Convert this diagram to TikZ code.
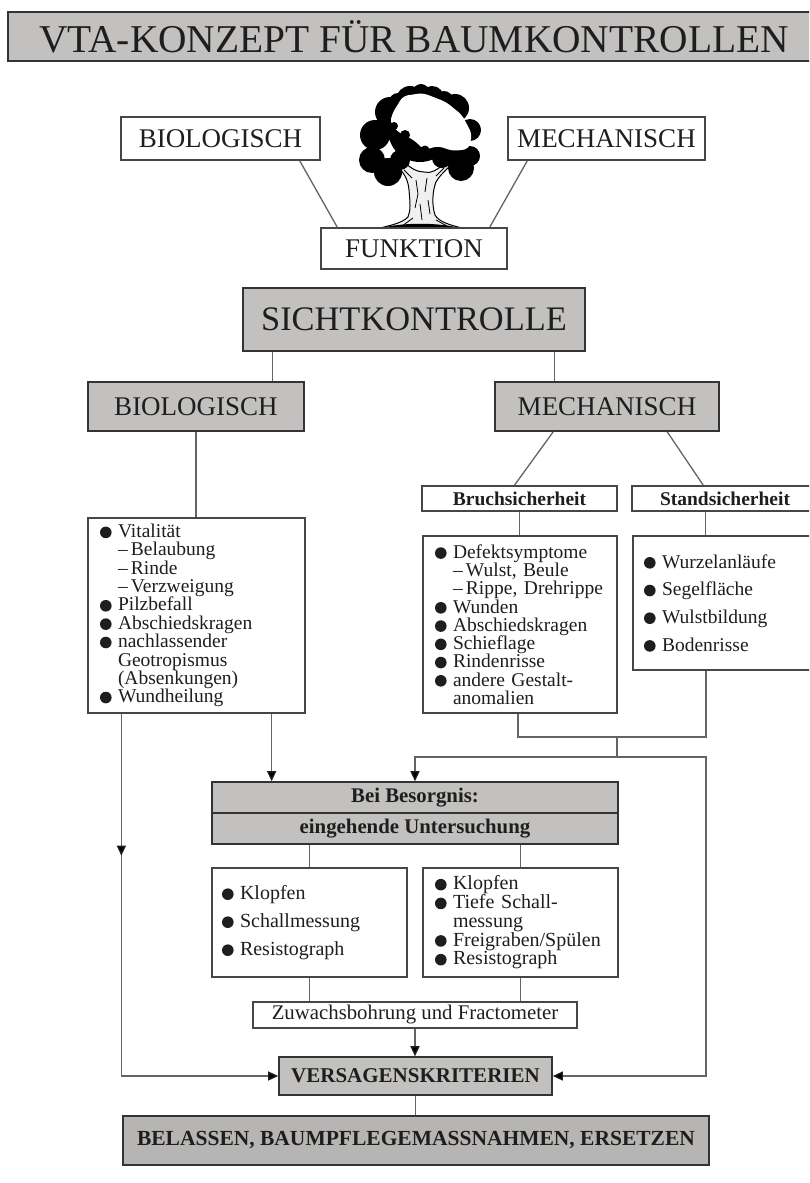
\documentclass[tikz,border=0pt]{standalone}
\usepackage{fontspec}
\setmainfont{Liberation Serif}
\usetikzlibrary{arrows.meta,calc,decorations.markings}

\definecolor{boxgray}{RGB}{194,193,191}
\definecolor{boxgraydark}{RGB}{182,181,180}
\definecolor{linegray}{RGB}{100,100,100}
\definecolor{inkc}{RGB}{30,30,30}

\newcommand\fs[2]{\fontsize{#1}{#2}\selectfont\lineskiplimit=-30pt\relax}
% round list bullet
\newcommand\blt{\tikz[x=1pt,y=1pt,baseline=-5.2pt]\fill[inkc] (0,0) circle (5.8pt);}
\newcommand\itm{\makebox[18pt][l]{\blt}}
\newcommand\cnt{\hspace*{18pt}}
\newcommand\subi{\hspace*{18pt}--\,}

\begin{document}
\begin{tikzpicture}[x=1pt,y=-1pt,
  every node/.style={text=inkc},
  whitebox/.style={draw=gray!55!black, line width=1.3pt, fill=white, inner sep=0pt},
  graybox/.style={draw=gray!40!black, line width=1.6pt, fill=boxgray, inner sep=0pt},
  sz/.style 2 args={minimum width=#1, minimum height=#2},
  listbox/.style={whitebox, align=left, inner xsep=12pt, inner ysep=0pt},
  conn/.style={draw=linegray, line width=1.3pt},
  tip/.tip={Triangle[length=10pt,width=9pt,color=inkc]},
  arr/.style={conn, -tip},
]
\useasboundingbox (0,0) rectangle (809,1183);
\clip (0,0) rectangle (809,1183);
\fill[white] (0,0) rectangle (809,1183);

% ---------- title ----------
\node[graybox, sz={812pt}{49pt}, font=\fs{39.4}{40}] (title) at (414,36.5)
  {VTA-KONZEPT FÜR BAUMKONTROLLEN};

% ---------- tree ----------
\begin{scope}
  % trunk with its two forks
  \filldraw[fill=gray!12, draw=black, line width=1pt]
    (396,165) .. controls (403,172) and (408,178) .. (409,190)
    .. controls (410,202) and (411,210) .. (408,217)
    .. controls (402,223) and (392,225) .. (380,228) -- (462,228)
    .. controls (450,225) and (439,222) .. (435,215)
    .. controls (432,206) and (432,192) .. (436,182)
    .. controls (440,175) and (446,170) .. (452,164)
    -- (446,162) .. controls (438,170) and (430,174) .. (424,172)
    .. controls (417,172) and (410,168) .. (403,161) -- cycle;
  % bark
  \draw[black, line width=0.8pt] (416,180) -- (418,194) -- (415,208)
    (427,178) -- (425,192) (428,200) -- (430,214) (420,204) -- (422,220)
    (413,218) -- (402,226) (436,220) -- (447,226) (404,170) -- (412,178)
    (444,168) -- (436,176);
  % crown: dark mass with a lobed outline
  \fill[black] (410,100) circle (14) (432,98) circle (12) (455,108) circle (14)
    (390,112) circle (15) (375,135) circle (15) (470,130) circle (11)
    (372,160) circle (13) (388,172) circle (14) (461,168) circle (13)
    (470,156) circle (10) (420,130) circle (32) (400,160) circle (10)
    (442,158) circle (10) (455,150) circle (12) (421,92) circle (8)
    (444,100) circle (9) (398,102) circle (9);
  % crown: light upper part
  \fill[white, rounded corners=5pt] (392,114) -- (403,96) -- (423,93) -- (446,102)
    -- (462,115) -- (472,134) -- (469,149) -- (453,151) -- (438,146)
    -- (424,150) -- (414,140) -- (401,134) -- (390,124) -- cycle;
  % shading along the lower edge of the light part
  \fill[black] (405,135) circle (5) (425,150) circle (4.5) (412,147) circle (3.5)
    (394,126) circle (4);
  % ground
  \fill[black] (378,229) .. controls (400,222) and (440,222) .. (464,229) -- cycle;
  \fill[black] (420,224) -- (424,236) -- (427,224) -- cycle;
\end{scope}

% ---------- top level ----------
\node[whitebox, sz={199pt}{43pt}, font=\fs{27}{28}] (bioTop) at (220.5,138.5) {BIOLOGISCH};
\node[whitebox, sz={197pt}{43pt}, font=\fs{27}{28}] (mechTop) at (606.5,138.5) {MECHANISCH};
\node[whitebox, sz={186pt}{41pt}, font=\fs{27}{28}] (funktion) at (414,248.5) {FUNKTION};

\node[graybox, sz={342pt}{63pt}, font=\fs{34.4}{36}] (sicht) at (414,319.5) {SICHTKONTROLLE};
\node[graybox, sz={216pt}{49pt}, font=\fs{27}{28}] (bio) at (196,406.5) {BIOLOGISCH};
\node[graybox, sz={224pt}{49pt}, font=\fs{27}{28}] (mech) at (607,406.5) {MECHANISCH};

\node[whitebox, sz={195pt}{25pt}, font=\fs{19.5}{20}\bfseries] (bruch) at (519.5,498.5) {Bruchsicherheit};
\node[whitebox, sz={186pt}{25pt}, font=\fs{19.5}{20}\bfseries] (stand) at (725,498.5) {Standsicherheit};

% ---------- symptom lists ----------
\node[listbox, text width=193pt, minimum height=195pt, font=\fs{19.5}{18.35}] (bioList) at (196.5,615.5) {%
\itm Vitalität\\
\subi Belaubung\\
\subi Rinde\\
\subi Verzweigung\\
\itm Pilzbefall\\
\itm Abschiedskragen\\
\itm nachlassender\\
\cnt Geotropismus\\
\cnt (Absenkungen)\\
\itm Wundheilung};

\node[listbox, inner xsep=12pt, text width=170pt, minimum height=177pt, font=\fs{19.5}{18.25}] (defList) at (520,624.5) {%
\itm Defektsymptome\\
\subi Wulst, Beule\\
\subi Rippe,~Drehrippe\\
\itm Wunden\\
\itm Abschiedskragen\\
\itm Schieflage\\
\itm Rindenrisse\\
\itm andere Gestalt-\\
\cnt anomalien};

\node[listbox, inner xsep=11pt, text width=163pt, minimum height=134pt, font=\fs{19.5}{27.7}] (standList) at (725.5,603) {%
\itm Wurzelanläufe\\
\itm Segelfläche\\
\itm Wulstbildung\\
\itm Bodenrisse};

% ---------- detailed examination ----------
\node[graybox, sz={406pt}{31pt}, font=\fs{20.8}{21}\bfseries] (bei) at (415,797.5) {Bei Besorgnis:};
\node[graybox, sz={406pt}{31pt}, font=\fs{20.8}{21}\bfseries] (unter) at (415,828.5) {eingehende Untersuchung};

\node[listbox, inner xsep=10pt, text width=175pt, minimum height=109pt, font=\fs{20}{28}] (klopfL) at (309.5,922.5) {%
\itm Klopfen\\
\itm Schallmessung\\
\itm Resistograph};

\node[listbox, inner xsep=12pt, text width=171pt, minimum height=109pt, font=\fs{20}{18.75}] (klopfR) at (520.5,922.5) {%
\itm Klopfen\\
\itm Tiefe Schall-\\
\cnt messung\\
\itm Freigraben/Spülen\\
\itm Resistograph};

\node[whitebox, sz={324pt}{26pt}, font=\fs{20.8}{21}] (zuwachs) at (415,1015) {Zuwachsbohrung und Fractometer};

\node[graybox, sz={273pt}{38pt}, font=\fs{21}{22}\bfseries] (vers) at (415.5,1076) {VERSAGENSKRITERIEN};
\node[graybox, fill=boxgraydark, sz={586pt}{49pt}, font=\fs{21.5}{22}\bfseries] (belassen) at (416,1140.5)
  {BELASSEN, BAUMPFLEGEMASSNAHMEN, ERSETZEN};

% ---------- connectors ----------
\draw[conn] ($(bioTop.south east)+(-21,0)$) -- ($(funktion.north west)+(17,0)$);
\draw[conn] ($(mechTop.south west)+(20,0)$) -- ($(funktion.north east)+(-18,0)$);

\draw[conn] ($(sicht.south west)+(30,0)$) coordinate (s1) -- (s1 |- bio.north);
\draw[conn] ($(sicht.south east)+(-31,0)$) coordinate (s2) -- (s2 |- mech.north);
\draw[conn] (bio.south) -- (bio.south |- bioList.north);
\draw[conn] ($(mech.south west)+(59,0)$) -- ($(bruch.north west)+(93,0)$);
\draw[conn] ($(mech.south west)+(173,0)$) -- ($(stand.north west)+(72,0)$);
\draw[conn] (bruch.south) -- (bruch.south |- defList.north);
\draw[conn] ($(stand.south west)+(74,0)$) coordinate (s3) -- (s3 |- standList.north);

\coordinate (uL) at (518,737);
\coordinate (uR) at (706,737);
\coordinate (uM) at (617,737);
\coordinate (hM) at (617,757);
\coordinate (hL) at (415,757);
\coordinate (hR) at (706,757);
\draw[conn] (defList.south -| uL) -- (uL) -- (uR) -- (standList.south -| uR);
\draw[conn] (uM) -- (hM);
\draw[arr] (hM) -- (hL) -- (hL |- bei.north);
\draw[arr] (hM) -- (hR) -- (hR |- vers.east) -- (vers.east);

\draw[arr] ($(bioList.south east)+(-34,0)$) coordinate (b1) -- (b1 |- bei.north);
\draw[arr, postaction=decorate,
  decoration={markings, mark=at position 142pt with {\arrow{tip}}}]
  ($(bioList.south west)+(34,0)$) coordinate (b2) -- (b2 |- vers.west) -- (vers.west);

\draw[conn] (unter.south -| klopfL.north) -- (klopfL.north);
\draw[conn] (unter.south -| klopfR.north) -- (klopfR.north);
\draw[conn] (klopfL.south) -- (klopfL.south |- zuwachs.north);
\draw[conn] (klopfR.south) -- (klopfR.south |- zuwachs.north);
\draw[arr] (zuwachs.south) -- (zuwachs.south |- vers.north);
\draw[conn] (vers.south) -- (vers.south |- belassen.north);
\end{tikzpicture}
\end{document}
